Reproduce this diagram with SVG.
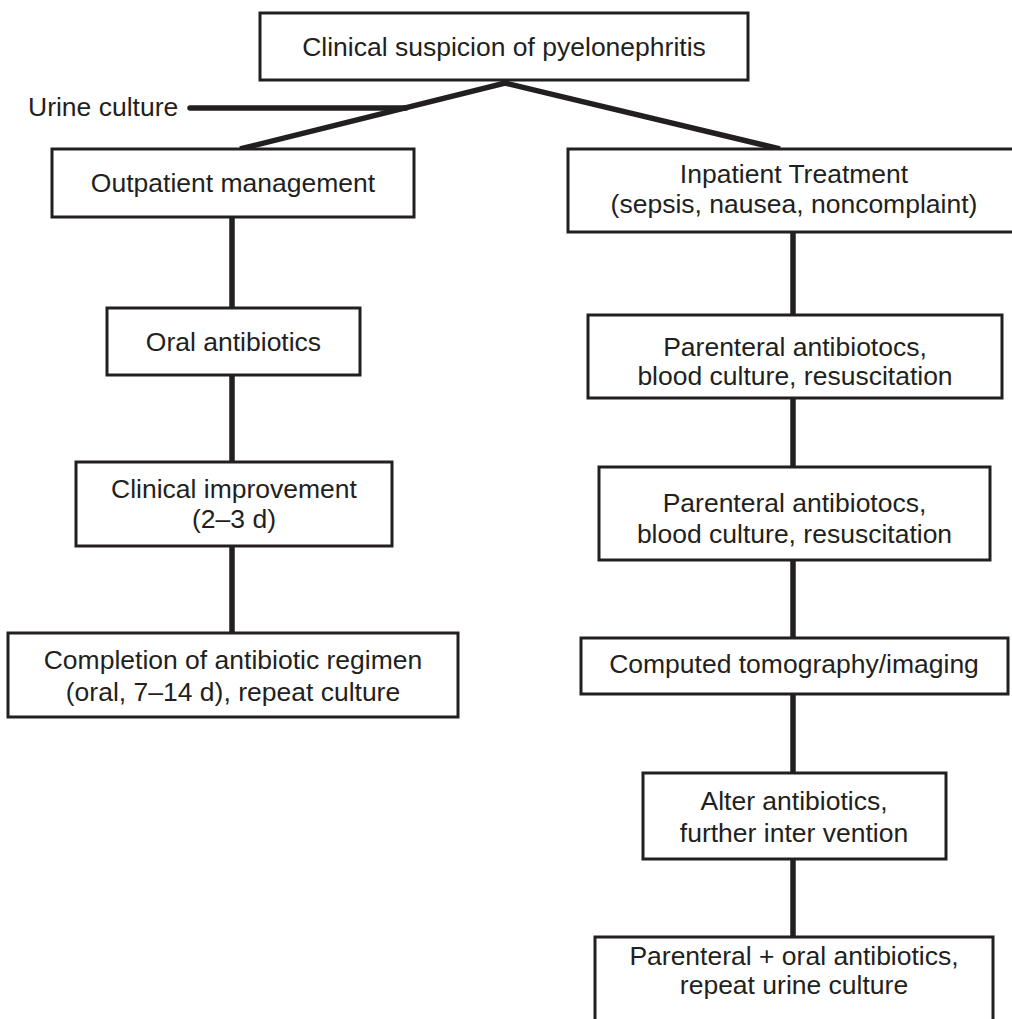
<svg xmlns="http://www.w3.org/2000/svg" width="1012" height="1019" viewBox="0 0 1012 1019">
  <style>
    .box { fill: #ffffff; stroke: #231f20; stroke-width: 3; }
    .lbl { font-family: "Liberation Sans", Arial, sans-serif; font-size: 26.5px; fill: #231f20; text-anchor: middle; }
    .side { font-family: "Liberation Sans", Arial, sans-serif; font-size: 26.5px; fill: #231f20; }
    .wire { stroke: #231f20; stroke-width: 5.5; fill: none; }
  </style>
  <rect width="1012" height="1019" fill="#ffffff"/>

  <!-- connectors -->
  <g id="connectors">
    <polyline class="wire" stroke-linejoin="miter" points="240,149 505,83 780,149"/>
    <line class="wire" x1="190" y1="108" x2="406" y2="108" stroke-linecap="round"/>
    <line class="wire" x1="232" y1="217" x2="232" y2="308"/>
    <line class="wire" x1="232" y1="375" x2="232" y2="462"/>
    <line class="wire" x1="232" y1="546" x2="232" y2="633"/>
    <line class="wire" x1="793" y1="232" x2="793" y2="315"/>
    <line class="wire" x1="793" y1="398" x2="793" y2="467"/>
    <line class="wire" x1="793" y1="560" x2="793" y2="638"/>
    <line class="wire" x1="793" y1="694" x2="793" y2="773"/>
    <line class="wire" x1="793" y1="859" x2="793" y2="937"/>
  </g>

  <text class="side" x="28" y="116">Urine culture</text>

  <g id="suspicion">
    <rect class="box" x="260" y="13" width="488" height="67"/>
    <text class="lbl" x="504" y="56">Clinical suspicion of pyelonephritis</text>
  </g>

  <g id="outpatient">
    <rect class="box" x="52" y="149" width="362" height="68"/>
    <text class="lbl" x="233" y="192">Outpatient management</text>
  </g>

  <g id="oral">
    <rect class="box" x="107" y="308" width="253" height="67"/>
    <text class="lbl" x="233.5" y="351">Oral antibiotics</text>
  </g>

  <g id="improvement">
    <rect class="box" x="76" y="462" width="316" height="84"/>
    <text class="lbl" x="234" y="498">Clinical improvement</text>
    <text class="lbl" x="234" y="528">(2–3 d)</text>
  </g>

  <g id="completion">
    <rect class="box" x="8" y="633" width="450" height="84"/>
    <text class="lbl" x="233" y="669">Completion of antibiotic regimen</text>
    <text class="lbl" x="233" y="701">(oral, 7–14 d), repeat culture</text>
  </g>

  <g id="inpatient">
    <rect class="box" x="568" y="149" width="452" height="83"/>
    <text class="lbl" x="794" y="183">Inpatient Treatment</text>
    <text class="lbl" x="794" y="213">(sepsis, nausea, noncomplaint)</text>
  </g>

  <g id="parenteral1">
    <rect class="box" x="588" y="315" width="414" height="83"/>
    <text class="lbl" x="795" y="356">Parenteral antibiotocs,</text>
    <text class="lbl" x="795" y="385">blood culture, resuscitation</text>
  </g>

  <g id="parenteral2">
    <rect class="box" x="599" y="467" width="391" height="93"/>
    <text class="lbl" x="794.5" y="512">Parenteral antibiotocs,</text>
    <text class="lbl" x="794.5" y="543">blood culture, resuscitation</text>
  </g>

  <g id="imaging">
    <rect class="box" x="581" y="638" width="427" height="56"/>
    <text class="lbl" x="794" y="673">Computed tomography/imaging</text>
  </g>

  <g id="alter">
    <rect class="box" x="643" y="773" width="303" height="86"/>
    <text class="lbl" x="794" y="810">Alter antibiotics,</text>
    <text class="lbl" x="794" y="842">further inter vention</text>
  </g>

  <g id="final">
    <rect class="box" x="595" y="937" width="398" height="100"/>
    <text class="lbl" x="794" y="965">Parenteral + oral antibiotics,</text>
    <text class="lbl" x="794" y="994">repeat urine culture</text>
  </g>
</svg>
